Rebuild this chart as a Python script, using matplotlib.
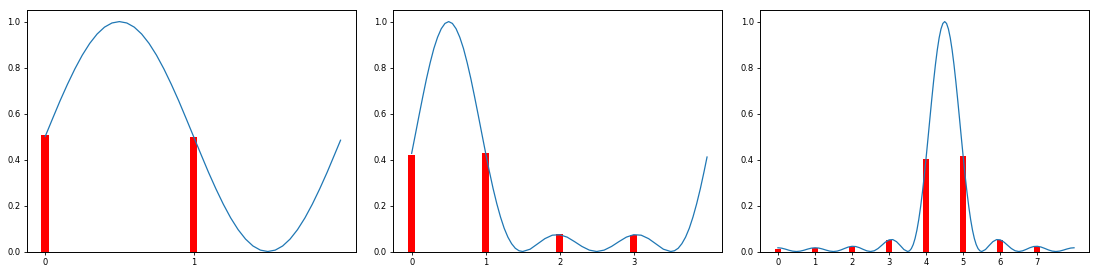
#!/usr/bin/env python
# -*- coding: utf-8 -*-
import matplotlib
matplotlib.use('Agg')
import matplotlib.pyplot as plt

# panel 1 : 2 outcomes
x1 = [0.0, 0.05, 0.1, 0.15, 0.2, 0.25, 0.3, 0.35, 0.4, 0.45, 0.5, 0.55, 0.6, 0.65, 0.7, 0.75,
      0.8, 0.85, 0.9, 0.95, 1.0, 1.05, 1.1, 1.15, 1.2, 1.25, 1.3, 1.35, 1.4, 1.45, 1.5, 1.55,
      1.6, 1.65, 1.7, 1.75, 1.8, 1.85, 1.9, 1.95, 1.99]
y1 = [0.5, 0.578, 0.655, 0.727, 0.794, 0.854, 0.905, 0.946, 0.976, 0.994, 1.0, 0.994, 0.976,
      0.946, 0.905, 0.854, 0.794, 0.727, 0.655, 0.578, 0.5, 0.422, 0.345, 0.273, 0.206, 0.146,
      0.095, 0.054, 0.024, 0.006, 0.0, 0.006, 0.024, 0.054, 0.095, 0.146, 0.206, 0.273, 0.345,
      0.422, 0.484]
bars1 = [0.505, 0.496]

# panel 2 : 4 outcomes
x2 = [0.0, 0.05, 0.1, 0.15, 0.2, 0.25, 0.3, 0.35, 0.4, 0.45, 0.5, 0.55, 0.6, 0.65, 0.7, 0.75,
      0.8, 0.85, 0.9, 0.95, 1.0, 1.05, 1.1, 1.15, 1.2, 1.25, 1.3, 1.35, 1.4, 1.45, 1.5,
      1.6, 1.7, 1.8, 1.9, 2.0, 2.1, 2.2, 2.3, 2.4, 2.5, 2.6, 2.7, 2.8, 2.9, 3.0, 3.1, 3.2,
      3.3, 3.4, 3.5, 3.55, 3.6, 3.65, 3.7, 3.75, 3.8, 3.85, 3.9, 3.95, 3.99]
y2 = [0.427, 0.509, 0.592, 0.673, 0.751, 0.821, 0.883, 0.932, 0.969, 0.992, 1.0, 0.992, 0.969,
      0.932, 0.883, 0.821, 0.751, 0.673, 0.592, 0.509, 0.427, 0.348, 0.274, 0.208, 0.150, 0.101,
      0.0625, 0.034, 0.014, 0.0033, 0.0,
      0.010, 0.033, 0.056, 0.071, 0.073, 0.0625, 0.043, 0.022, 0.006, 0.0, 0.006, 0.022, 0.043,
      0.0625, 0.073, 0.071, 0.056, 0.033, 0.010, 0.0,
      0.0033, 0.014, 0.034, 0.0625, 0.101, 0.150, 0.208, 0.274, 0.348, 0.411]
bars2 = [0.421, 0.428, 0.074, 0.073]

# panel 3 : 8 outcomes
x3 = [0.0, 0.1, 0.2, 0.3, 0.4, 0.5, 0.6, 0.7, 0.8, 0.9, 1.0, 1.1, 1.2, 1.3, 1.4, 1.5, 1.6, 1.7,
      1.8, 1.9, 2.0, 2.1, 2.2, 2.3, 2.4, 2.5, 2.6, 2.7, 2.8, 2.9, 3.0, 3.1, 3.2, 3.3, 3.4, 3.5,
      3.55, 3.6, 3.65, 3.7, 3.75, 3.8, 3.85, 3.9, 3.95, 4.0, 4.05, 4.1, 4.15, 4.2, 4.25, 4.3,
      4.35, 4.4, 4.45, 4.5, 4.55, 4.6, 4.65, 4.7, 4.75, 4.8, 4.85, 4.9, 4.95, 5.0, 5.05, 5.1,
      5.15, 5.2, 5.25, 5.3, 5.35, 5.4, 5.45,
      5.5, 5.6, 5.7, 5.8, 5.9, 6.0, 6.1, 6.2, 6.3, 6.4, 6.5, 6.6, 6.7, 6.8, 6.9, 7.0, 7.1,
      7.2, 7.3, 7.4, 7.5, 7.6, 7.7, 7.8, 7.9, 7.99]
y3 = [0.0162, 0.0145, 0.0104, 0.0054, 0.0015, 0.0, 0.0015, 0.0054, 0.0104, 0.0145, 0.0162,
      0.0150, 0.0110, 0.0060, 0.0017, 0.0, 0.0018, 0.0068, 0.0134, 0.0194, 0.0226, 0.0216,
      0.0166, 0.0093, 0.0028, 0.0, 0.0032, 0.0128, 0.0267, 0.0409, 0.0506, 0.0518, 0.0428,
      0.0262, 0.0085, 0.0,
      0.0029, 0.0125, 0.030, 0.0565, 0.0927, 0.1388, 0.1946, 0.2593, 0.3319, 0.4105, 0.4932,
      0.5775, 0.6608, 0.7402, 0.8132, 0.8769, 0.9292, 0.9680, 0.9919, 1.0, 0.9919, 0.9680,
      0.9292, 0.8769, 0.8132, 0.7402, 0.6608, 0.5775, 0.4932, 0.4105, 0.3319, 0.2593, 0.1946,
      0.1388, 0.0927, 0.0565, 0.030, 0.0125, 0.0029,
      0.0, 0.0085, 0.0262, 0.0428, 0.0518, 0.0506, 0.0409, 0.0267, 0.0128, 0.0032, 0.0, 0.0028,
      0.0093, 0.0166, 0.0216, 0.0226, 0.0194, 0.0134, 0.0068, 0.0018, 0.0, 0.0017, 0.0060,
      0.0110, 0.0150, 0.0162]
bars3 = [0.013, 0.0145, 0.020, 0.052, 0.401, 0.414, 0.052, 0.020]


def plot_panel(ax, x, y, bars, width):
	"""curve plus measured probabilities"""
	ax.plot(x, y, color='C0', linewidth=0.9)
	ax.bar(range(len(bars)), bars, width=width, color='red')
	ax.set_xticks(range(len(bars)))
	ax.set_yticks([0.0, 0.2, 0.4, 0.6, 0.8, 1.0])
	ax.set_ylim(0, 1.05)
	ax.tick_params(labelsize=6, length=2.5, width=0.6, pad=2)
	for sp in ax.spines.values():
		sp.set_linewidth(0.7)


def main():
	fig = plt.figure(figsize=(11, 2.75), dpi=100)
	bottom = 23.5 / 275
	height = (251.7 - 10.3) / 275
	w = 329 / 1100
	lefts = [26.5 / 1100, 393 / 1100, 760 / 1100]
	data = [(x1, y1, bars1, 0.05), (x2, y2, bars2, 0.1), (x3, y3, bars3, 0.16)]
	for left, (x, y, b, bw) in zip(lefts, data):
		ax = fig.add_axes([left, bottom, w, height])
		plot_panel(ax, x, y, b, bw)
	fig.savefig('out.png', dpi=100)


if __name__ == '__main__':
	main()
